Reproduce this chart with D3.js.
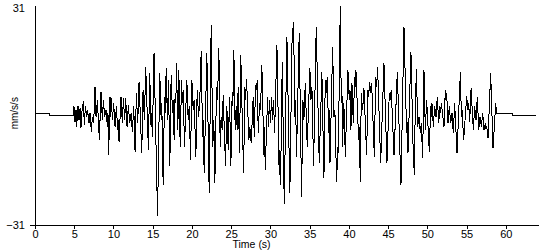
<!DOCTYPE html>
<html>
<head>
<meta charset="utf-8">
<script src="https://cdn.jsdelivr.net/npm/d3@7"></script>
<style>
  html, body { margin: 0; padding: 0; background: #fff; }
  svg { display: block; }
  text { font-family: "Liberation Sans", Arial, sans-serif; fill: #000; }
</style>
</head>
<body>
<div id="chart"></div>
<script>
// time (s) and acceleration (mm/s/s), extremes only
var timeSec = [
  0, 1.85, 1.86, 4.88, 4.97, 5.10, 5.23, 5.31, 5.48, 5.61, 5.74, 5.86, 5.99, 6.16, 6.29, 6.42,
  6.59, 6.71, 6.88, 7.01, 7.18, 7.31, 7.48, 7.65, 7.78, 7.95, 8.20, 8.41, 8.58, 8.71, 8.88, 9.05,
  9.22, 9.30, 9.39, 9.56, 9.64, 9.73, 9.86, 10.03, 10.20, 10.37, 10.54, 10.62, 10.71, 10.96, 11.13, 11.26,
  11.43, 11.56, 11.73, 11.90, 12.07, 12.24, 12.41, 12.58, 12.75, 12.92, 13.09, 13.26, 13.60, 13.77, 13.94, 14.11,
  14.45, 14.62, 14.79, 14.87, 14.96, 15.17, 15.62, 15.90, 16.08, 16.16, 16.33, 16.50, 16.63, 16.71, 16.88, 17.01,
  17.18, 17.35, 17.52, 17.60, 17.73, 17.86, 17.95, 18.03, 18.20, 18.33, 18.50, 18.67, 18.80, 18.88, 19.05, 19.35,
  19.52, 19.65, 19.82, 19.99, 20.16, 20.28, 20.50, 20.67, 20.84, 21.00, 21.18, 21.35, 21.43, 21.56, 21.90, 22.20,
  22.45, 22.66, 22.79, 22.92, 23.13, 23.26, 23.43, 23.60, 23.72, 23.85, 23.98, 24.28, 24.45, 24.62, 24.79, 24.96,
  25.13, 25.21, 25.34, 25.51, 25.64, 25.77, 25.89, 26.06, 26.22, 26.58, 26.75, 26.83, 26.96, 27.26, 27.38, 27.55,
  27.81, 27.94, 28.11, 28.23, 28.32, 28.45, 28.62, 28.74, 28.91, 29.17, 29.25, 29.34, 29.64, 29.76, 29.89, 30.02,
  30.15, 30.27, 30.40, 30.53, 30.83, 31.12, 31.21, 31.29, 31.51, 31.76, 32.10, 32.48, 32.78, 32.87, 32.95, 33.12,
  33.21, 33.33, 33.67, 33.97, 34.14, 34.27, 34.44, 34.69, 35.03, 35.16, 35.29, 35.50, 35.84, 36.22, 36.56, 36.82,
  36.99, 37.12, 37.24, 37.42, 37.50, 37.59, 37.93, 38.10, 38.22, 38.43, 38.60, 38.69, 38.82, 38.86, 38.90, 39.03,
  39.12, 39.20, 39.33, 39.41, 39.54, 39.88, 40.05, 40.14, 40.26, 40.39, 40.56, 40.73, 40.82, 40.90, 41.24, 41.33,
  41.45, 41.58, 41.75, 41.92, 42.26, 42.43, 42.52, 42.64, 42.77, 42.90, 43.24, 43.41, 43.54, 43.66, 44.05, 44.47,
  44.85, 45.15, 45.28, 45.40, 45.75, 46.17, 46.64, 47.02, 47.36, 47.44, 47.53, 47.91, 48.21, 48.35, 48.43, 48.60,
  48.77, 48.94, 49.11, 49.23, 49.40, 49.57, 49.74, 49.91, 50.25, 50.42, 50.51, 50.59, 50.76, 50.93, 51.10, 51.27,
  51.44, 51.61, 51.70, 51.78, 52.12, 52.29, 52.38, 52.46, 52.63, 52.80, 52.97, 53.14, 53.31, 53.48, 53.78, 54.21,
  54.33, 54.42, 54.63, 55.01, 55.18, 55.27, 55.40, 55.57, 55.86, 56.03, 56.20, 56.37, 56.54, 56.71, 56.88, 57.05,
  57.22, 57.39, 57.48, 57.56, 57.73, 58.07, 58.37, 58.71, 58.79, 58.88, 60.80, 60.81, 63.80
];
var accel = [
  0.3, 0.3, -0.1, -0.1, 2.4, -1.9, 1.4, -3.3, 2.4, -1.4, 1.9, -3.7, 1.0, 3.8, -2.8, 2.4,
  -0.5, 1.4, -2.3, 0.5, -4.7, -0.5, -2.3, 8.0, -0.5, 4.2, -7.0, 6.6, -1.4, 4.2, -0.5, 1.4,
  -3.3, 0.5, -11.3, 5.2, -0.5, 4.7, -1.4, 3.3, -3.3, 2.4, -4.2, -1.4, -7.5, 5.2, -2.3, 4.7,
  -1.4, 4.7, -3.3, 2.8, -2.3, 0.5, -4.7, 2.4, -10.3, 6.1, -2.3, 9.4, -10.8, 7.1, -1.4, 13.6,
  -9.9, 11.8, -3.3, 0.5, -6.1, 17.4, -28.6, 11.8, -1.4, 3.3, -19.7, 5.2, 0.5, 13.2, -1.4, 9.9,
  -14.5, 11.3, 0.5, 4.2, -7.0, 6.1, 3.3, 14.6, -4.2, 12.7, -8.9, 9.9, 3.3, 7.1, -8.9, 9.9,
  -1.4, 2.4, -12.7, 9.9, 1.4, 4.2, -11.7, 7.0, -0.5, 4.2, 17.9, -6.1, -1.4, -16.4, 17.4, -22.1,
  25.4, -8.9, -1.4, -19.2, 8.0, 4.2, 18.8, -8.9, -0.5, -4.2, 5.6, -14.5, 2.4, -9.8, 5.2, -14.5,
  6.6, 2.4, 18.3, -4.2, 2.4, -4.2, 8.0, -10.8, 17.0, -16.4, 8.0, 4.2, 10.2, -7.0, -3.3, -8.0,
  5.2, -6.1, 8.5, 7.1, 9.9, -5.2, 3.3, 1.4, 14.1, -11.3, -3.3, -15.5, 5.2, -3.3, 4.2, -2.3,
  5.2, -1.4, 4.2, -5.2, 19.7, -16.9, -9.8, -19.7, 15.0, -25.1, 22.1, -21.9, 24.4, 21.1, 26.3, -0.5,
  4.2, -11.7, 23.0, -23.0, 4.2, -1.4, 9.0, -8.9, 13.2, 4.2, 8.0, -14.5, 24.9, -13.6, 12.2, -17.8,
  9.9, 6.1, 10.8, -5.2, 1.4, -13.6, 19.3, -0.5, 1.4, -18.8, -8.9, -10.8, 25.4, 23.0, 30.7, 3.3,
  6.1, -8.9, 3.3, 0.5, -11.7, 12.7, 4.2, 7.1, -4.2, 8.9, -2.3, 10.8, 8.0, 12.7, -7.0, -3.3,
  -18.8, 6.1, 1.4, 7.5, -11.3, 7.1, 5.2, 9.4, 6.1, 8.9, -11.7, 10.8, 8.0, 13.6, -13.6, 14.6,
  -13.6, 6.1, 4.2, 7.1, -11.3, 12.2, -19.7, 24.9, -5.2, -2.0, -10.8, 17.8, -11.7, -16.9, -2.3, 12.9,
  -3.3, -0.5, -5.2, -2.3, -12.2, 12.7, -4.2, 4.2, -10.3, 2.4, -0.5, 3.3, -3.3, 2.4, -0.5, 5.2,
  -2.3, 2.4, 0.5, 3.3, -3.3, 7.1, 4.2, 6.1, -2.3, 2.4, -2.3, 0.5, -5.2, 3.3, -10.8, 12.2,
  -0.5, 1.4, -7.0, 5.2, 1.4, 3.3, -1.9, 7.5, -4.2, 2.4, -1.4, 5.2, -4.2, -0.5, -3.3, 0.5,
  -4.2, -2.3, -4.0, -3.0, -6.6, 11.8, -9.4, 3.3, 1.0, 0.3, 0.3, -0.1, -0.1
];
var xTicks = [0, 5, 10, 15, 20, 25, 30, 35, 40, 45, 50, 55, 60];
var yTicks = [-31, 31];
var xLabel = "Time (s)";
var yLabel = "mm/s/s";

var width = 550, height = 250;

var data = timeSec.map(function (t, i) { return { t: t, v: accel[i] }; });

var xScale = d3.scaleLinear().domain([0, 64.1]).range([35, 538]);
var yScale = d3.scaleLinear().domain([-31, 31]).range([225, 5]);

var svg = d3.select("#chart").append("svg")
  .attr("width", width)
  .attr("height", height);

svg.append("rect").attr("width", width).attr("height", height).attr("fill", "#fff");

// x axis
var gx = svg.append("g")
  .attr("transform", "translate(0," + yScale(-31) + ")")
  .call(d3.axisBottom(xScale).tickValues(xTicks).tickSize(4).tickSizeOuter(0).tickPadding(1));
gx.selectAll("text").style("font-size", "11px");

// y axis, only the bottom tick has a mark
var gy = svg.append("g")
  .attr("transform", "translate(" + xScale(0) + ",0)")
  .call(d3.axisLeft(yScale).tickValues(yTicks).tickSize(5).tickSizeOuter(0).tickPadding(5));
gy.selectAll(".tick").filter(function (d) { return d > 0; }).select("line").remove();
gy.selectAll(".tick").filter(function (d) { return d > 0; }).select("text").attr("dy", "0.6em");
gy.selectAll("text").style("font-size", "11px");

svg.selectAll(".domain, .tick line").attr("stroke", "#000").attr("shape-rendering", "crispEdges");

svg.append("text")
  .attr("x", xScale(27.6))
  .attr("y", 248)
  .attr("text-anchor", "middle")
  .style("font-size", "10.5px")
  .text(xLabel);

svg.append("text")
  .attr("transform", "translate(14," + yScale(0.5) + ") rotate(-90)")
  .attr("text-anchor", "middle")
  .attr("dy", "0.35em")
  .style("font-size", "10px")
  .text(yLabel);

// the trace
var line = d3.line()
  .x(function (d) { return xScale(d.t); })
  .y(function (d) { return yScale(d.v); });

svg.append("path")
  .datum(data)
  .attr("d", line)
  .attr("fill", "none")
  .attr("stroke", "#000")
  .attr("stroke-width", 1)
  .attr("shape-rendering", "crispEdges");
</script>
</body>
</html>
